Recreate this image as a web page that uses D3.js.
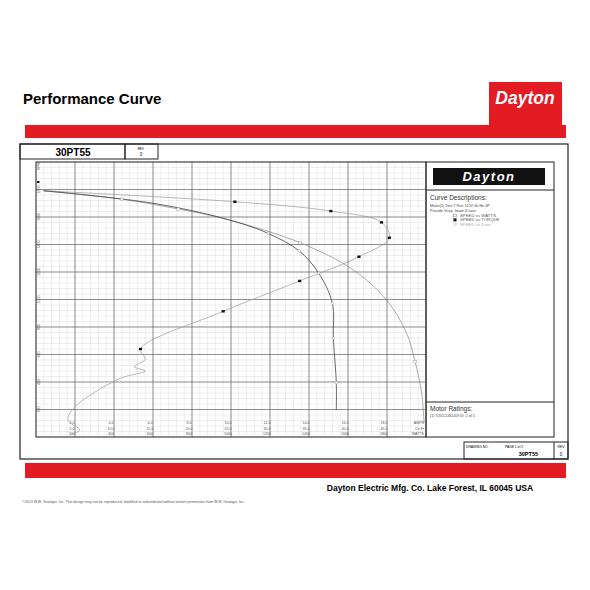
<!DOCTYPE html>
<html><head><meta charset="utf-8">
<script src="https://cdn.jsdelivr.net/npm/d3@7"></script>
<style>body{margin:0;background:#fff}svg text{font-family:Arial,"Liberation Sans",sans-serif}</style>
</head><body><svg id="c" width="590" height="590"></svg>
<script>
// readings off the scanned sheet
var ampTicks = [2, 4, 6, 8, 10, 12, 14, 16, 18];
var torqueTicks = [5, 10, 15, 20, 25, 30, 35, 40, 45];
var wattTicks = [200, 400, 600, 800, 1000, 1200, 1400, 1600, 1800];
var rpmTicks = [200, 400, 600, 800, 1000, 1200, 1400, 1600, 1800];

// speed vs torque (oz-ft, rpm)
var torqueVals = [0.9, 25.5, 37.8, 44.3, 45.3, 41.4, 33.8, 24.0, 13.4, 14.0, 12.6, 14.0, 10.8, 5.0, 4.1, 5.6, 4.4];
var torqueRpm = [1791, 1711, 1643, 1561, 1449, 1311, 1135, 914, 640, 565, 511, 480, 426, 220, 124, 51, 15];
var torqueMarks = [1, 2, 3, 4, 5, 6, 7, 8];
// speed vs watts
var wattVals = [37, 440, 730, 978, 1354, 1627, 1798, 1901, 1944, 1978, 1990];
var wattRpm = [1791, 1729, 1658, 1583, 1413, 1215, 996, 754, 548, 318, 102];
var wattMarks = [1, 2, 4, 8];
// speed vs line current
var ampVals = [0.4, 6.0, 9.8, 11.9, 13.5, 14.5, 15.2, 15.25, 15.4, 15.4];
var ampRpm = [1791, 1700, 1583, 1481, 1353, 1191, 972, 718, 395, 196];
var ampMarks = [3, 4, 5, 6, 7, 8];

var red = "#e31b23";
var svg = d3.select("#c");

svg.append("text").attr("x", 23).attr("y", 104).attr("font-size", 15).attr("font-weight", "bold").text("Performance Curve");
svg.append("rect").attr("x", 489).attr("y", 82).attr("width", 73).attr("height", 45).attr("fill", red);
svg.append("text").attr("x", 525).attr("y", 104).attr("text-anchor", "middle").attr("font-size", 17.5)
    .attr("font-weight", "bold").attr("font-style", "italic").attr("fill", "#fff").text("Dayton");
svg.append("rect").attr("x", 25).attr("y", 125).attr("width", 541).attr("height", 13).attr("fill", red);
svg.append("rect").attr("x", 25).attr("y", 463).attr("width", 541).attr("height", 15).attr("fill", red);
svg.append("text").attr("x", 430).attr("y", 491).attr("text-anchor", "middle").attr("font-size", 8.5)
    .attr("font-weight", "bold").text("Dayton Electric Mfg. Co.  Lake Forest, IL  60045  USA");
svg.append("text").attr("x", 22).attr("y", 503).attr("font-size", 3.6).attr("fill", "#555")
    .text("©2013 W.W. Grainger, Inc.   This design may not be reproduced, modified or redistributed without written permission from W.W. Grainger, Inc.");

// frame
var line = "#222";
svg.append("rect").attr("x", 20).attr("y", 144).attr("width", 548).attr("height", 315).attr("fill", "none").attr("stroke", line).attr("stroke-width", 1.2);
svg.append("rect").attr("x", 20).attr("y", 144).attr("width", 105).attr("height", 15).attr("fill", "none").attr("stroke", line);
svg.append("rect").attr("x", 125).attr("y", 144).attr("width", 33).attr("height", 15).attr("fill", "none").attr("stroke", line);
svg.append("text").attr("x", 73).attr("y", 156).attr("text-anchor", "middle").attr("font-size", 10).attr("font-weight", "bold").text("30PT55");
svg.append("text").attr("x", 141).attr("y", 149.5).attr("text-anchor", "middle").attr("font-size", 3).text("REV.");
svg.append("text").attr("x", 141).attr("y", 156).attr("text-anchor", "middle").attr("font-size", 4.5).text("0");

// right panel
svg.append("rect").attr("x", 426).attr("y", 162).attr("width", 128).attr("height", 275).attr("fill", "none").attr("stroke", line);
svg.append("line").attr("x1", 426).attr("x2", 554).attr("y1", 190).attr("y2", 190).attr("stroke", line);
svg.append("line").attr("x1", 426).attr("x2", 554).attr("y1", 402).attr("y2", 402).attr("stroke", line);
svg.append("rect").attr("x", 433).attr("y", 168).attr("width", 112).attr("height", 17).attr("fill", "#111");
svg.append("text").attr("x", 489).attr("y", 181).attr("text-anchor", "middle").attr("font-size", 13)
    .attr("font-weight", "bold").attr("font-style", "italic").attr("fill", "#fff").attr("letter-spacing", 1.5).text("Dayton");
svg.append("text").attr("x", 430).attr("y", 200).attr("font-size", 6.5).attr("fill", "#333").text("Curve Descriptions:");
svg.append("text").attr("x", 430).attr("y", 207).attr("font-size", 3.8).attr("fill", "#444").text("Motor(1) Test 7 Run 115V 60 Hz 4P");
svg.append("text").attr("x", 430).attr("y", 211.5).attr("font-size", 3.8).attr("fill", "#444").text("Provide Vcap, Imain & Iaux");
var legendRows = [["SPEED vs WATTS", "open"], ["SPEED vs TORQUE", "fill"], ["SPEED vs ILine", "circle"]];
legendRows.forEach(function (r, i) {
    var y = 215.5 + i * 4.3;
    var g = svg.append("g");
    if (r[1] === "circle") g.append("circle").attr("cx", 455).attr("cy", y).attr("r", 1.4).attr("fill", "none").attr("stroke", "#aaa").attr("stroke-width", 0.5);
    else g.append("rect").attr("x", 453.6).attr("y", y - 1.4).attr("width", 2.8).attr("height", 2.8)
        .attr("fill", r[1] === "fill" ? "#111" : "none").attr("stroke", "#777").attr("stroke-width", 0.5);
    g.append("text").attr("x", 460).attr("y", y + 1.5).attr("font-size", 4.3).attr("fill", i === 2 ? "#aaa" : "#555").text(r[0]);
});
svg.append("text").attr("x", 430).attr("y", 411).attr("font-size", 6.5).attr("fill", "#333").text("Motor Ratings:");
svg.append("text").attr("x", 430).attr("y", 417).attr("font-size", 3.6).attr("fill", "#444").text("(1) T055CLW1459   ID: 2 of 5");

// drawing no box
svg.append("rect").attr("x", 464).attr("y", 442).attr("width", 104).attr("height", 17).attr("fill", "none").attr("stroke", line);
svg.append("line").attr("x1", 554).attr("x2", 554).attr("y1", 442).attr("y2", 459).attr("stroke", line);
svg.append("text").attr("x", 466).attr("y", 447.5).attr("font-size", 3.3).text("DRAWING NO.");
svg.append("text").attr("x", 505).attr("y", 447.5).attr("font-size", 3.3).text("PAGE  1  of  2");
svg.append("text").attr("x", 538).attr("y", 456).attr("text-anchor", "end").attr("font-size", 5.5).attr("font-weight", "bold").text("30PT55");
svg.append("text").attr("x", 561).attr("y", 447.5).attr("text-anchor", "middle").attr("font-size", 3.3).text("REV");
svg.append("text").attr("x", 561).attr("y", 456).attr("text-anchor", "middle").attr("font-size", 4.5).text("0");

// plot
var x0 = 36, x1 = 426, y0 = 437, y1 = 162;
var xA = d3.scaleLinear().domain([0, 20]).range([x0, x1]);
var xT = d3.scaleLinear().domain([0, 50]).range([x0, x1]);
var xW = d3.scaleLinear().domain([0, 2000]).range([x0, x1]);
var yR = d3.scaleLinear().domain([0, 2000]).range([y0, y1]);
var plot = svg.append("g");
d3.range(0, 20.01, 0.4).forEach(function (a) {
    plot.append("line").attr("x1", xA(a)).attr("x2", xA(a)).attr("y1", y1).attr("y2", y0).attr("stroke", "#d4d4d4").attr("stroke-width", 0.4);
});
d3.range(0, 2000.1, 40).forEach(function (r) {
    plot.append("line").attr("x1", x0).attr("x2", x1).attr("y1", yR(r)).attr("y2", yR(r)).attr("stroke", "#d4d4d4").attr("stroke-width", 0.4);
});
ampTicks.forEach(function (a) {
    plot.append("line").attr("x1", xA(a)).attr("x2", xA(a)).attr("y1", y1).attr("y2", y0).attr("stroke", "#666").attr("stroke-width", 0.7);
});
rpmTicks.forEach(function (r) {
    plot.append("line").attr("x1", x0).attr("x2", x1).attr("y1", yR(r)).attr("y2", yR(r)).attr("stroke", "#666").attr("stroke-width", 0.7);
});
plot.append("rect").attr("x", x0).attr("y", y1).attr("width", x1 - x0).attr("height", y0 - y1).attr("fill", "none").attr("stroke", line).attr("stroke-width", 1);

var lab = { "font-size": 3.6, fill: "#555" };
function t(g, x, y, s, anchor, rot) {
    var e = g.append("text").attr("x", x).attr("y", y).attr("font-size", lab["font-size"]).attr("fill", lab.fill)
        .attr("text-anchor", anchor || "middle").text(s);
    if (rot) e.attr("transform", "rotate(-90," + x + "," + y + ")");
}
ampTicks.forEach(function (a, i) {
    t(plot, xA(a) - 3, 424, a.toFixed(1));
    t(plot, xT(torqueTicks[i]) - 3, 429.5, torqueTicks[i].toFixed(1));
    t(plot, xW(wattTicks[i]) - 3, 435, String(wattTicks[i]));
});
t(plot, 424, 424, "AMPS", "end");
t(plot, 424, 429.5, "Oz-Ft", "end");
t(plot, 424, 435, "WATTS", "end");
rpmTicks.forEach(function (r) { t(plot, 39.5, yR(r), String(r), "middle", true); });
t(plot, 39.5, 166, "RPM", "middle", true);
plot.append("rect").attr("x", 37).attr("y", 181).attr("width", 2.5).attr("height", 2).attr("fill", "#111");

function pts(xs, ys, sx) { return xs.map(function (v, i) { return [sx(v), yR(ys[i])]; }); }
var ln = d3.line().curve(d3.curveCatmullRom);
var pW = pts(wattVals, wattRpm, xW), pT = pts(torqueVals, torqueRpm, xT), pA = pts(ampVals, ampRpm, xA);
plot.append("path").attr("d", ln(pW)).attr("fill", "none").attr("stroke", "#888").attr("stroke-width", 0.7);
plot.append("path").attr("d", ln(pT)).attr("fill", "none").attr("stroke", "#999").attr("stroke-width", 0.7);
plot.append("path").attr("d", ln(pA)).attr("fill", "none").attr("stroke", "#444").attr("stroke-width", 0.8);
wattMarks.forEach(function (i) {
    plot.append("rect").attr("x", pW[i][0] - 1.3).attr("y", pW[i][1] - 1.3).attr("width", 2.6).attr("height", 2.6)
        .attr("fill", "#fff").attr("stroke", "#999").attr("stroke-width", 0.5);
});
torqueMarks.forEach(function (i) {
    plot.append("rect").attr("x", pT[i][0] - 1.6).attr("y", pT[i][1] - 1.2).attr("width", 3.2).attr("height", 2.4).attr("fill", "#111");
});
ampMarks.forEach(function (i) {
    plot.append("circle").attr("cx", pA[i][0]).attr("cy", pA[i][1]).attr("r", 1.3)
        .attr("fill", "#fff").attr("stroke", "#999").attr("stroke-width", 0.5);
});
</script></body></html>
